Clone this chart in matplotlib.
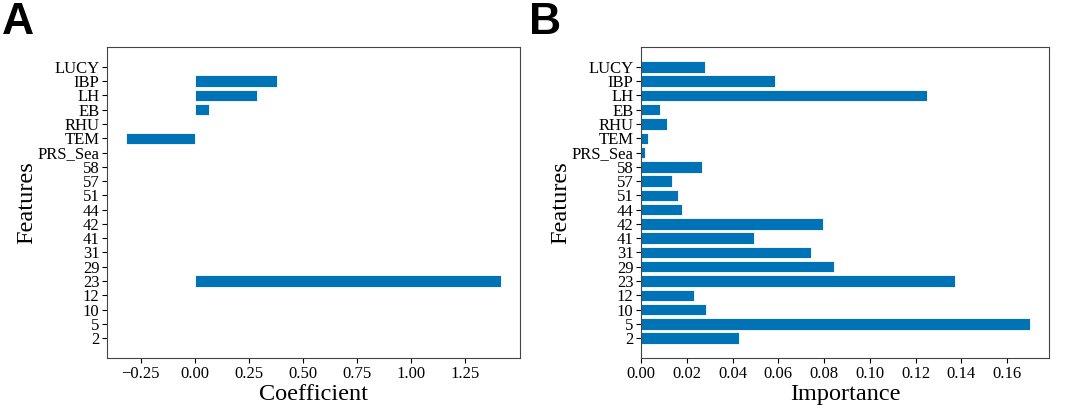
import matplotlib
matplotlib.use('Agg')
import matplotlib.pyplot as plt

features = ['2', '5', '10', '12', '23', '29', '31', '41', '42', '44', '51', '57', '58',
            'PRS_Sea', 'TEM', 'RHU', 'EB', 'LH', 'IBP', 'LUCY']
coefficient = [0, 0, 0, 0, 1.415, 0, 0, 0, 0, 0, 0, 0, 0,
               0, -0.319, 0, 0.065, 0.287, 0.378, 0]
importance = [0.0429, 0.1699, 0.0285, 0.0231, 0.1372, 0.0842, 0.0742, 0.0495, 0.0796,
              0.0179, 0.0163, 0.0135, 0.0265, 0.0017, 0.0028, 0.0112, 0.0081, 0.125,
              0.0585, 0.0279]

bar_color = '#0073B7'
plt.rcParams['font.family'] = ['Liberation Serif', 'DejaVu Serif']

fig = plt.figure(figsize=(10.65, 4.12), dpi=100)
ax1 = fig.add_axes([0.1005, 0.131, 0.3875, 0.755])
ax2 = fig.add_axes([0.602, 0.131, 0.383, 0.755])

for ax, vals, xlab in [(ax1, coefficient, 'Coefficient'), (ax2, importance, 'Importance')]:
    ax.barh(features, vals, color=bar_color, edgecolor='white', linewidth=0.6)
    ax.set_xlabel(xlab, fontsize=17.5, labelpad=2)
    ax.set_ylabel('Features', fontsize=17.5, labelpad=0)
    ax.tick_params(labelsize=12, pad=2)
    for s in ax.spines.values():
        s.set_color('#444444')

ax1.set_xticks([-0.25, 0, 0.25, 0.5, 0.75, 1.0, 1.25])
ax2.set_xticks([0, 0.02, 0.04, 0.06, 0.08, 0.10, 0.12, 0.14, 0.16])

fig.text(0.002, 0.995, 'A', fontsize=32, fontweight='bold', family='Liberation Sans', va='top', ha='left')
fig.text(0.497, 0.995, 'B', fontsize=32, fontweight='bold', family='Liberation Sans', va='top', ha='left')

fig.savefig('out.png', dpi=100)
